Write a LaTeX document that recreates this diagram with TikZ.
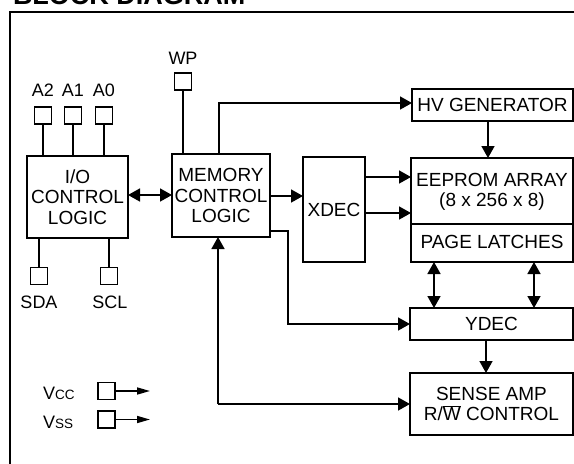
\documentclass[tikz,border=0pt]{standalone}
\usepackage{fontspec}
\setmainfont{Liberation Sans}
\usetikzlibrary{arrows.meta,calc}
\newcommand\ovlW{$\overline{\mbox{W}}$}
\begin{document}
\begin{tikzpicture}[x=1pt,y=-1pt,
  every node/.style={inner sep=0pt, outer sep=0pt},
  blk/.style={draw, line width=1.6pt, rectangle, align=center, font=\fontsize{19}{20.5}\selectfont},
  txt/.style={align=center, font=\fontsize{19}{20.5}\selectfont},
  pin/.style={draw, line width=1.6pt, minimum size=17pt},
  lbl/.style={font=\fontsize{18}{18}\selectfont},
  wire/.style={line width=1.6pt},
  arr/.style={wire, -{Triangle[length=12pt,width=13pt]}},
  darr/.style={wire, {Triangle[length=12pt,width=13pt]}-{Triangle[length=12pt,width=13pt]}},
  varr/.style={wire, -{Triangle[length=13pt,width=7pt]}},
]
\useasboundingbox (0,0) rectangle (574,464);
\clip (0,0) rectangle (574,464);

% title (cut off at top) and frame
\node[anchor=base west, font=\bfseries\fontsize{27}{27}\selectfont] (title) at (13,4) {BLOCK DIAGRAM};
\draw[line width=2pt] (10,490) -- (10,12) -- (600,12);

% blocks
\node[blk, minimum width=101pt, minimum height=82pt] (io) at (77.5,197) {I/O\\CONTROL\\LOGIC};
\node[blk, minimum width=98pt, minimum height=83pt] (mcl) at (221,195.5) {MEMORY\\CONTROL\\LOGIC};
\node[blk, minimum width=161pt, minimum height=32pt] (hv) at (492.5,105) {HV GENERATOR};
\node[blk, minimum width=62pt, minimum height=105pt] (xdec) at (334,209.5) {XDEC};
\node[blk, minimum width=162pt, minimum height=104pt] (ee) at (492,210) {};
\coordinate (dv) at (0,224);
\draw[wire] (ee.west |- dv) -- (ee.east |- dv);
\node[txt] (eet) at (492,192) {EEPROM ARRAY\\(8 x 256 x 8)};
\node[txt] (pl) at (492,242) {PAGE LATCHES};
\node[blk, minimum width=163pt, minimum height=32pt] (ydec) at (491.5,324) {YDEC};
\node[blk, minimum width=163pt, minimum height=62pt] (sense) at (491.5,404) {SENSE AMP\\R/\ovlW{} CONTROL};

% pins
\node[pin] (a2) at (43,115.5) {};
\node[pin] (a1) at (73,115.5) {};
\node[pin] (a0) at (104,115.5) {};
\node[lbl] (la2) at (43,90) {A2};
\node[lbl] (la1) at (73,90) {A1};
\node[lbl] (la0) at (104,90) {A0};
\node[pin] (wp) at (183,81.5) {};
\node[lbl] (lwp) at (183,58) {WP};
\node[pin] (sda) at (39,276) {};
\node[pin] (scl) at (109,276) {};
\node[lbl] (lsda) at (39,302) {SDA};
\node[lbl] (lscl) at (110,302) {SCL};
\node[pin] (vcc) at (106.5,391) {};
\node[pin] (vss) at (106.5,419.5) {};
\node[lbl, anchor=west] (lvcc) at (43,393) {V{\fontsize{13.5}{13.5}\selectfont CC}};
\node[lbl, anchor=west] (lvss) at (43,422) {V{\fontsize{13.5}{13.5}\selectfont SS}};

% pin wires
\draw[wire] (a2) -- (a2 |- io.north);
\draw[wire] (a1) -- (a1 |- io.north);
\draw[wire] (a0) -- (a0 |- io.north);
\draw[wire] (sda) -- (sda |- io.south);
\draw[wire] (scl) -- (scl |- io.south);
\draw[wire] (wp) -- (wp |- mcl.north);
\coordinate (vend) at (150,0);
\draw[varr] (vcc.east) -- (vcc.east -| vend);
\draw[varr] (vss.east) -- (vss.east -| vend);

% connectors
\coordinate (hvc) at (219,103);
\draw[arr] (mcl.north -| hvc) -- (hvc) -- (hv.west |- hvc);
\coordinate (yio) at (0,195);
\draw[darr] (io.east |- yio) -- (mcl.west |- yio);
\coordinate (ymx) at (0,196);
\draw[arr] (mcl.east |- ymx) -- (xdec.west |- ymx);
\coordinate (yx1) at (0,177);
\coordinate (yx2) at (0,213);
\draw[arr] (xdec.east |- yx1) -- (ee.west |- yx1);
\draw[arr] (xdec.east |- yx2) -- (ee.west |- yx2);
\coordinate (ymy) at (288,231);
\draw[arr] (mcl.east |- ymy) -- (ymy) |- (ydec.west);
\coordinate (ysa) at (218,404);
\draw[arr] (ysa) -- (ysa |- mcl.south);
\draw[arr] (ysa) -- (sense.west);
\coordinate (xhv) at (488,0);
\draw[arr] (hv.south -| xhv) -- (ee.north -| xhv);
\coordinate (xl1) at (434,0);
\coordinate (xl2) at (534,0);
\draw[darr] (ee.south -| xl1) -- (ydec.north -| xl1);
\draw[darr] (ee.south -| xl2) -- (ydec.north -| xl2);
\coordinate (xys) at (486,0);
\draw[arr] (ydec.south -| xys) -- (sense.north -| xys);
\end{tikzpicture}
\end{document}
